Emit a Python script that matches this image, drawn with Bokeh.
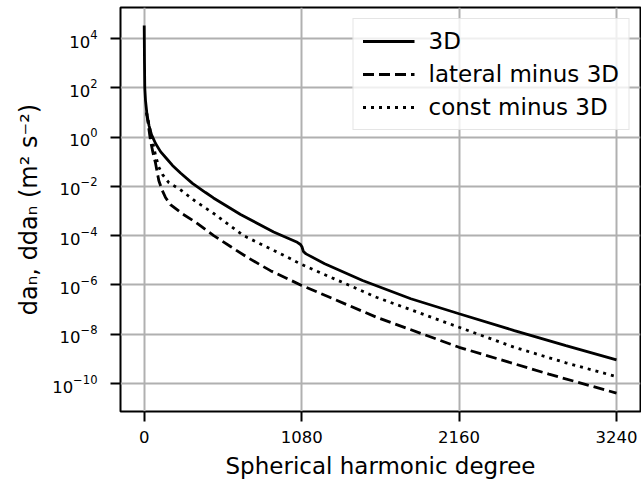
from bokeh.plotting import figure
from bokeh.models import Range1d, FixedTicker, Legend, LegendItem, LogTickFormatter, ColumnDataSource
from bokeh.embed import file_html
from bokeh.resources import INLINE

# ---- data ----
n_3d = [0, 2, 4, 9, 19, 33, 50, 78, 112, 153, 194, 249, 331, 421, 475, 661, 888,
        1050, 1072, 1082, 1092, 1110, 1238, 1498, 1829, 2160, 2539, 2893, 3240]
da_3d = [3.39e4, 1.0e3, 1.0e2, 30.2, 8.32, 2.95, 1.26, 0.55, 0.257, 0.135, 0.0708,
         0.0347, 0.0132, 5.62e-3, 3.39e-3, 7.24e-4, 1.41e-4, 5.37e-5, 4.37e-5,
         3.55e-5, 2.29e-5, 1.82e-5, 7.24e-6, 1.51e-6, 2.75e-7, 6.76e-8, 1.41e-8,
         3.47e-9, 9.12e-10]

n_lat = [16, 26, 43, 60, 78, 100, 124, 146, 180, 261, 352, 477, 592, 707, 866, 1080,
         1593, 2160, 2539, 2776, 3240]
dda_lat = [10.0, 3.89, 0.724, 0.234, 0.0851, 0.0174, 6.76e-3, 3.55e-3, 1.82e-3,
           7.76e-4, 3.55e-4, 1.0e-4, 3.63e-5, 1.32e-5, 3.8e-6, 9.55e-7, 4.9e-8,
           2.95e-9, 6.31e-10, 2.4e-10, 4.07e-11]

n_const = [16, 32, 47, 66, 78, 100, 126, 169, 240, 350, 477, 682, 844, 1004, 1072,
           1593, 2160, 2539, 2893, 3240]
dda_const = [10.0, 3.47, 1.15, 0.389, 0.178, 0.0603, 0.0302, 0.0141, 7.94e-3, 2.51e-3,
             7.94e-4, 1.0e-4, 3.39e-5, 1.15e-5, 7.08e-6, 3.16e-7, 1.91e-8, 2.95e-9,
             6.92e-10, 1.91e-10]

x_ticks = [0, 1080, 2160, 3240]
y_ticks = [1e-10, 1e-8, 1e-6, 1e-4, 1e-2, 1e0, 1e2, 1e4]
labels = ["3D", "lateral minus 3D", "const minus 3D"]

FONT = "DejaVu Sans"

p = figure(width=641, height=483, y_axis_type="log",
           x_range=Range1d(-162.6, 3404.6),
           y_range=Range1d(10 ** -11.136, 10 ** 5.258),
           output_backend="svg", toolbar_location=None,
           min_border_left=120, min_border_right=1, min_border_top=7,
           min_border_bottom=72)

p.background_fill_color = "white"
p.border_fill_color = "white"
p.outline_line_color = "black"
p.outline_line_width = 2

src_3d = ColumnDataSource(dict(x=n_3d, y=da_3d))
src_lat = ColumnDataSource(dict(x=n_lat, y=dda_lat))
src_const = ColumnDataSource(dict(x=n_const, y=dda_const))

r3 = p.line("x", "y", source=src_3d, line_color="black", line_width=2.8)
rl = p.line("x", "y", source=src_lat, line_color="black", line_width=2.8, line_dash="11 5")
rc = p.line("x", "y", source=src_const, line_color="black", line_width=2.8, line_dash="3 5")

# axes
p.xaxis.ticker = FixedTicker(ticks=x_ticks, minor_ticks=[])
p.yaxis.ticker = FixedTicker(ticks=y_ticks, minor_ticks=[])
p.yaxis.formatter = LogTickFormatter()

for ax in (p.xaxis[0], p.yaxis[0]):
    ax.axis_line_color = None
    ax.major_tick_line_color = "black"
    ax.major_tick_line_width = 2
    ax.major_tick_out = 10
    ax.major_tick_in = 0
    ax.minor_tick_line_color = None
    ax.major_label_text_font = FONT
    ax.major_label_text_font_size = "16.5px"
    ax.major_label_text_color = "black"
    ax.axis_label_text_font = FONT
    ax.axis_label_text_font_style = "normal"
    ax.axis_label_text_color = "black"

p.xaxis.axis_label_text_font_size = "23px"
p.yaxis.axis_label_text_font_size = "24px"
p.xaxis.major_label_standoff = 9
p.yaxis.major_label_standoff = 13
p.xaxis.axis_label = "Spherical harmonic degree"
p.yaxis.axis_label = "daₙ, ddaₙ (m² s⁻²)"
p.xaxis.axis_label_standoff = 7
p.yaxis.axis_label_standoff = 6

p.xgrid.ticker = FixedTicker(ticks=x_ticks)
p.ygrid.ticker = FixedTicker(ticks=y_ticks)
for g in (p.xgrid[0], p.ygrid[0]):
    g.grid_line_color = "#b0b0b0"
    g.grid_line_width = 2

legend = Legend(items=[LegendItem(label=labels[0], renderers=[r3]),
                       LegendItem(label=labels[1], renderers=[rl]),
                       LegendItem(label=labels[2], renderers=[rc])],
                location="top_right", margin=11)
legend.label_text_font = FONT
legend.label_text_font_size = "23px"
legend.label_text_color = "black"
legend.glyph_width = 52
legend.glyph_height = 26
legend.label_height = 26
legend.spacing = 7
legend.padding = 9
legend.label_standoff = 14
legend.border_line_color = "#cccccc"
legend.border_line_width = 1.5
legend.background_fill_alpha = 0.8
p.add_layout(legend)

open("out.html", "w").write(file_html(p, INLINE))
